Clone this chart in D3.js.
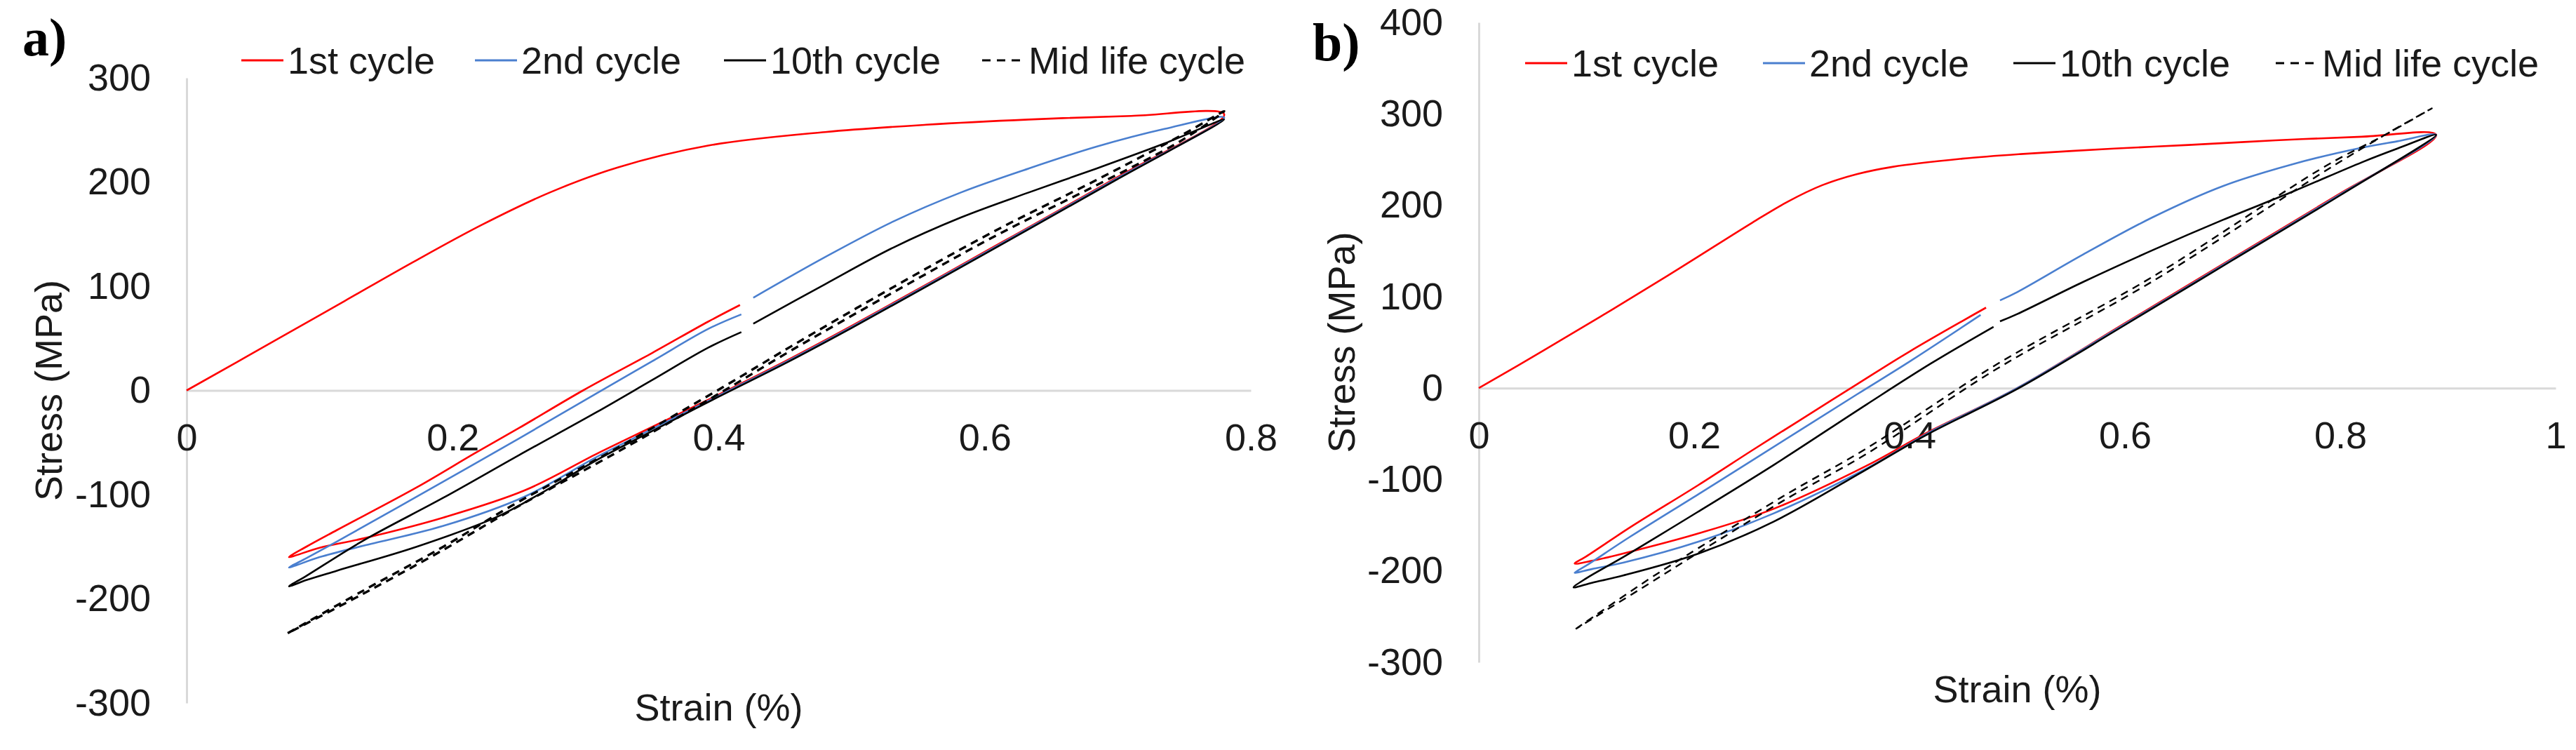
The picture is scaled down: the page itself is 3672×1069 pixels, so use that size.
<!DOCTYPE html>
<html><head><meta charset="utf-8">
<script src="https://cdn.jsdelivr.net/npm/d3@7"></script>
<style>
body{margin:0;background:#fff}
svg{display:block}
</style>
</head><body>
<svg id="chart" width="3672" height="1069"></svg>
<script>
// ---------- data ----------
const seriesNames = ["1st cycle", "2nd cycle", "10th cycle", "Mid life cycle"];
const seriesColors = ["#ff0000", "#4a7fcf", "#000000", "#000000"];

const xTicksA = [0, 0.2, 0.4, 0.6, 0.8];
const yTicksA = [-300, -200, -100, 0, 100, 200, 300];
const xTicksB = [0, 0.2, 0.4, 0.6, 0.8, 1];
const yTicksB = [-300, -200, -100, 0, 100, 200, 300, 400];

// panel a) : [strain %, stress MPa]
const a_cycle1 = [[0,0],[0.068,49],[0.119,86],[0.170,123],[0.222,159],[0.273,190],[0.324,214],[0.392,235],[0.48,248],[0.556,255],[0.633,260],[0.71,263.5],[0.78,265],
  [0.70,205],[0.60,133],[0.50,62],[0.45,28],[0.40,-4],[0.35,-35],[0.308,-61],[0.254,-96],[0.193,-122],[0.133,-142],[0.10,-151],[0.077,-160],
  [0.09,-150],[0.113,-134],[0.173,-93],[0.217,-60],[0.25,-36],[0.298,0],[0.35,36],[0.392,66],[0.416,82]];
const a_cycle2 = [[0.426,89],[0.48,128],[0.531,162],[0.582,190],[0.633,213],[0.684,234],[0.735,251],[0.78,262],
  [0.70,204],[0.60,132],[0.50,61],[0.45,27],[0.40,-5],[0.35,-37],[0.308,-64],[0.254,-102],[0.193,-130],[0.133,-149],[0.10,-160],[0.077,-170],
  [0.09,-161],[0.113,-145],[0.173,-102],[0.25,-46],[0.308,-3],[0.35,28],[0.392,59],[0.417,73]];
const a_cycle10 = [[0.426,64],[0.48,102],[0.531,137],[0.582,166],[0.633,190],[0.684,213],[0.735,237],[0.78,260],
  [0.70,203],[0.60,131],[0.50,60],[0.45,26],[0.40,-6],[0.35,-39],[0.308,-67],[0.27,-96],[0.234,-121],[0.173,-150],[0.113,-173],[0.09,-182],[0.077,-188],
  [0.09,-178],[0.133,-144],[0.193,-103],[0.25,-62],[0.308,-21],[0.35,10],[0.392,41],[0.417,56]];
const a_midlife = [[0.076,-233],[0.133,-192],[0.193,-150],[0.244,-111],[0.324,-55],[0.403,3],[0.454,42],[0.531,99],[0.6075,153],[0.684,202],[0.748,245],[0.78,268],
  [0.748,240],[0.684,197],[0.6075,148],[0.531,94],[0.454,38],[0.403,-1],[0.324,-59],[0.244,-115],[0.193,-153],[0.133,-195],[0.076,-233]];

// panel b)
const b_cycle1 = [[0,0],[0.06,41],[0.124,86],[0.189,133],[0.254,181],[0.287,204],[0.319,222],[0.351,234],[0.384,242],[0.449,251],[0.503,256],[0.59,262],[0.659,266],[0.74,271],[0.82,275],[0.889,277],
  [0.8,213],[0.7,142],[0.6,71],[0.5,0],[0.416,-49],[0.36,-85],[0.274,-132],[0.204,-159],[0.134,-181],[0.105,-189],[0.089,-192],
  [0.1,-184],[0.141,-152],[0.204,-106],[0.254,-68],[0.297,-36],[0.351,4],[0.4,40],[0.471,88]];
const b_cycle2 = [[0.484,96],[0.5,105],[0.561,146],[0.626,187],[0.691,221],[0.756,245],[0.82,263],[0.853,270],[0.889,277],
  [0.8,212],[0.7,141],[0.6,70],[0.5,0],[0.416,-50],[0.36,-88],[0.274,-137],[0.204,-168],[0.134,-191],[0.105,-198],[0.089,-202],
  [0.1,-194],[0.14,-163],[0.204,-116],[0.254,-79],[0.351,-7],[0.4,29],[0.466,80]];
const b_cycle10 = [[0.484,73],[0.5,81],[0.561,116],[0.626,151],[0.691,184],[0.756,215],[0.82,247],[0.853,262],[0.889,277],
  [0.8,211],[0.7,140],[0.6,69],[0.5,-1],[0.416,-51],[0.36,-89],[0.274,-146],[0.204,-181],[0.134,-205],[0.105,-213],[0.088,-218],
  [0.1,-208],[0.134,-185],[0.204,-135],[0.274,-84],[0.36,-18],[0.42,27],[0.478,67]];
const b_midlife = [[0.09,-263.5],[0.158,-209],[0.204,-175],[0.286,-116],[0.36,-66],[0.481,26],[0.626,122],[0.788,244],[0.84,276],[0.885,306],
  [0.84,276],[0.788,239],[0.626,117],[0.481,21],[0.36,-72],[0.286,-121],[0.204,-180],[0.158,-214],[0.09,-263.5]];

// ---------- drawing ----------
const FONT = "'Liberation Sans', Arial, Helvetica, sans-serif";
const svg = d3.select("#chart");
svg.append("rect").attr("width", 3672).attr("height", 1069).attr("fill", "#fff");

const fmt = d => String(Math.round(d * 10) / 10);

const panels = [
  { label: "a)", labelX: 32, labelY: 79, xr: [266, 1783], yr: [1002, 111], xd: [0, 0.8], yd: [-300, 300],
    xTicks: xTicksA, yTicks: yTicksA, series: [a_cycle1, a_cycle2, a_cycle10, a_midlife],
    legendY: 86, legendX: [344, 677, 1032, 1400], yTitleX: 69, xTitleY: 1027, dashW: 3.4 },
  { label: "b)", labelX: 1871, labelY: 86, xr: [2108, 3643], yr: [944, 32], xd: [0, 1], yd: [-300, 400],
    xTicks: xTicksB, yTicks: yTicksB, series: [b_cycle1, b_cycle2, b_cycle10, b_midlife],
    legendY: 90, legendX: [2174, 2513, 2870, 3244], yTitleX: 1912, xTitleY: 1001, dashW: 2.4 }
];

panels.forEach(p => {
  const x = d3.scaleLinear().domain(p.xd).range(p.xr);
  const y = d3.scaleLinear().domain(p.yd).range(p.yr);
  const g = svg.append("g");

  // y axis
  g.append("g")
    .attr("transform", `translate(${x(0)},0)`)
    .call(d3.axisLeft(y).tickValues(p.yTicks).tickFormat(fmt).tickSizeInner(0).tickSizeOuter(0).tickPadding(51))
    .attr("font-family", FONT).attr("font-size", 54)
    .call(a => a.select(".domain").attr("stroke", "#d9d9d9").attr("stroke-width", 3))
    .call(a => a.selectAll("text").attr("fill", "#1a1a1a"));

  // x axis along zero stress
  g.append("g")
    .attr("transform", `translate(0,${y(0)})`)
    .call(d3.axisBottom(x).tickValues(p.xTicks).tickFormat(fmt).tickSizeInner(0).tickSizeOuter(0))
    .attr("font-family", FONT).attr("font-size", 54)
    .call(a => a.select(".domain").attr("stroke", "#d9d9d9").attr("stroke-width", 3))
    .call(a => a.selectAll("text").attr("fill", "#1a1a1a").attr("y", 67).attr("dy", "0.35em"));

  // axis titles
  g.append("text")
    .attr("x", (p.xr[0] + p.xr[1]) / 2).attr("y", p.xTitleY)
    .attr("text-anchor", "middle").attr("font-family", FONT).attr("font-size", 54).attr("fill", "#1a1a1a")
    .text("Strain (%)");
  g.append("text")
    .attr("transform", `translate(${p.yTitleX},${(p.yr[0] + p.yr[1]) / 2}) rotate(-90)`)
    .attr("dy", "0.35em")
    .attr("text-anchor", "middle").attr("font-family", FONT).attr("font-size", 54).attr("fill", "#1a1a1a")
    .text("Stress (MPa)");

  // panel label
  g.append("text")
    .attr("x", p.labelX).attr("y", p.labelY)
    .attr("font-family", "'Liberation Serif', 'Times New Roman', serif").attr("font-weight", "bold")
    .attr("font-size", 76).attr("fill", "#000")
    .text(p.label);

  // curves
  const line = d3.line().x(d => x(d[0])).y(d => y(d[1])).curve(d3.curveCatmullRom.alpha(0.5));
  p.series.forEach((s, i) => {
    g.append("path")
      .attr("d", line(s))
      .attr("fill", "none")
      .attr("stroke", seriesColors[i])
      .attr("stroke-width", i === 3 ? p.dashW : 2.6)
      .attr("stroke-dasharray", i === 3 ? "11,8" : null)
      .attr("stroke-linejoin", "round");
  });

  // legend
  seriesNames.forEach((name, i) => {
    const lx = p.legendX[i];
    g.append("line")
      .attr("x1", lx).attr("x2", lx + 60).attr("y1", p.legendY).attr("y2", p.legendY)
      .attr("stroke", seriesColors[i]).attr("stroke-width", 3)
      .attr("stroke-dasharray", i === 3 ? "12,9" : null);
    g.append("text")
      .attr("x", lx + 66).attr("y", p.legendY).attr("dy", "0.35em")
      .attr("font-family", FONT).attr("font-size", 54).attr("fill", "#1a1a1a")
      .text(name);
  });
});
</script>
</body></html>
